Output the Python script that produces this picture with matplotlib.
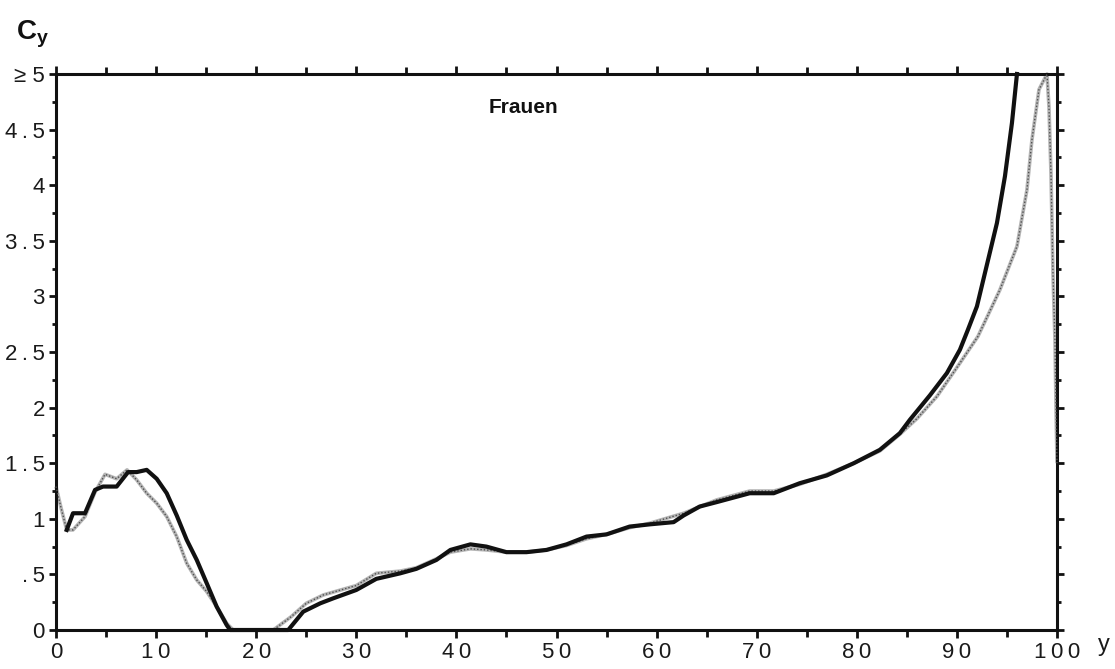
import matplotlib
matplotlib.use("Agg")
import matplotlib.pyplot as plt
from matplotlib.ticker import MultipleLocator

# Solid (thick black) curve
x_solid = [1.07, 1.7, 2.9, 3.9, 4.7, 6.06, 7.2, 8.06, 9.06, 10.06, 11.06, 12.06, 13.06,
           14.06, 15.06, 16.05, 17.05, 17.4, 20.0, 23.2, 24.7, 26.4, 27.7, 30.0, 32.0,
           34.4, 36.0, 38.0, 39.4, 41.4, 43.0, 45.0, 47.0, 49.0, 51.0, 53.0, 55.0, 57.3,
           59.3, 61.7, 62.7, 64.3, 66.0, 69.3, 71.7, 74.3, 77.0, 79.7, 82.3, 84.3, 85.3,
           87.3, 89.0, 90.3, 91.1, 92.0, 94.0, 94.8, 95.5, 96.0]
y_solid = [0.90, 1.05, 1.05, 1.26, 1.29, 1.29, 1.42, 1.42, 1.44, 1.36, 1.23, 1.03, 0.81,
           0.63, 0.42, 0.21, 0.045, 0.0, 0.0, 0.0, 0.165, 0.24, 0.285, 0.36, 0.46,
           0.51, 0.55, 0.63, 0.72, 0.77, 0.75, 0.70, 0.70, 0.72, 0.77, 0.84, 0.86, 0.93,
           0.95, 0.97, 1.03, 1.11, 1.15, 1.23, 1.23, 1.32, 1.39, 1.50, 1.62, 1.77, 1.89,
           2.11, 2.31, 2.52, 2.70, 2.91, 3.66, 4.08, 4.56, 5.0]

# Dotted (grey) curve
x_dot = [0.0, 0.5, 1.07, 1.7, 2.9, 3.9, 4.9, 6.06, 7.1, 8.06, 9.06, 10.06, 11.06, 12.06,
         13.06, 14.06, 15.06, 16.05, 17.05, 17.7, 20.0, 21.7, 23.5, 25.0, 26.7, 30.0,
         32.0, 34.4, 36.0, 38.0, 39.4, 41.4, 43.0, 45.0, 47.0, 49.0, 51.0, 53.0, 55.0,
         57.3, 59.3, 62.7, 66.0, 69.3, 71.7, 74.3, 77.0, 79.7, 82.3, 84.3, 86.0, 88.0,
         90.3, 92.1, 94.3, 96.0, 97.0, 97.5, 98.2, 99.0, 99.2, 99.4, 99.6, 99.8, 99.9,
         100.0]
y_dot = [1.29, 1.10, 0.90, 0.90, 1.02, 1.24, 1.40, 1.36, 1.44, 1.35, 1.23, 1.14, 1.02, 0.84,
         0.60, 0.45, 0.345, 0.21, 0.06, 0.0, 0.0, 0.0, 0.12, 0.24, 0.315, 0.40,
         0.51, 0.53, 0.56, 0.64, 0.70, 0.73, 0.72, 0.70, 0.70, 0.72, 0.76, 0.82, 0.86,
         0.92, 0.96, 1.05, 1.17, 1.25, 1.25, 1.31, 1.40, 1.50, 1.61, 1.76, 1.90, 2.10,
         2.40, 2.64, 3.06, 3.45, 3.96, 4.41, 4.86, 5.0, 4.7, 4.1, 3.2, 2.6, 2.0,
         1.5]

T = "\u2009"
x_ticks = [0, 10, 20, 30, 40, 50, 60, 70, 80, 90, 100]
x_labels = ["0", "1" + T + "0", "2" + T + "0", "3" + T + "0", "4" + T + "0", "5" + T + "0",
            "6" + T + "0", "7" + T + "0", "8" + T + "0", "9" + T + "0", "1" + T + "0" + T + "0"]
y_ticks = [0, 0.5, 1, 1.5, 2, 2.5, 3, 3.5, 4, 4.5, 5]
y_labels = ["0", "." + T + "5", "1", "1" + T + "." + T + "5", "2", "2" + T + "." + T + "5", "3",
            "3" + T + "." + T + "5", "4", "4" + T + "." + T + "5", "\u2265 5"]

plt.rcParams['font.family'] = ['Liberation Sans', 'DejaVu Sans']
plt.rcParams['mathtext.fontset'] = 'custom'
plt.rcParams['mathtext.bf'] = 'Liberation Sans:bold'
plt.rcParams['mathtext.rm'] = 'Liberation Sans'

fig = plt.figure(figsize=(11.15, 6.69), dpi=100)
ax = fig.add_axes([56 / 1115, 1 - 630 / 669, 1001 / 1115, 556 / 669])

ax.plot(x_dot, y_dot, color='#b5b5b5', lw=2.6, solid_capstyle='butt', zorder=2, clip_on=False)
ax.plot(x_dot, y_dot, color='#505050', lw=1.0, ls=(0, (1, 1.4)), zorder=3, clip_on=False)
ax.plot(x_solid, y_solid, color='#111111', lw=3.0, zorder=4, clip_on=False,
        solid_joinstyle='round')

ax.set_xlim(0, 100)
ax.set_ylim(0, 5)

for s in ax.spines.values():
    s.set_linewidth(2.2)
    s.set_color('#111111')

ax.set_xticks(x_ticks)
ax.set_xticklabels(x_labels)
ax.set_yticks(y_ticks)
ax.set_yticklabels(y_labels)
ax.xaxis.set_minor_locator(MultipleLocator(5))
ax.yaxis.set_minor_locator(MultipleLocator(0.25))

ax.tick_params(axis='both', which='both', direction='out', color='#111111', width=2)
ax.tick_params(axis='x', which='major', length=6, labelsize=16, pad=3,
               top=True, labeltop=False)
ax.tick_params(axis='x', which='minor', length=5, top=True)
ax.tick_params(axis='y', which='major', length=5, labelsize=16, pad=3,
               right=True, labelright=False)
ax.tick_params(axis='y', which='minor', length=3, right=True)
for lab in ax.get_xticklabels() + ax.get_yticklabels():
    lab.set_color('#1a1a1a')

fig.text(16 / 1115, 1 - 18 / 669, r"$\mathbf{C}_{\mathbf{y}}$", fontsize=20,
         ha='left', va='top', color='#111111')
fig.text(1104 / 1115, 1 - 645 / 669, "y", fontsize=17, ha='center', va='center',
         color='#1a1a1a')
ax.text(46.7, 4.70, "Frauen", fontsize=15,
        fontweight='bold', ha='center', va='center', color='#111111')

fig.savefig("out.png", dpi=100, facecolor='white')
